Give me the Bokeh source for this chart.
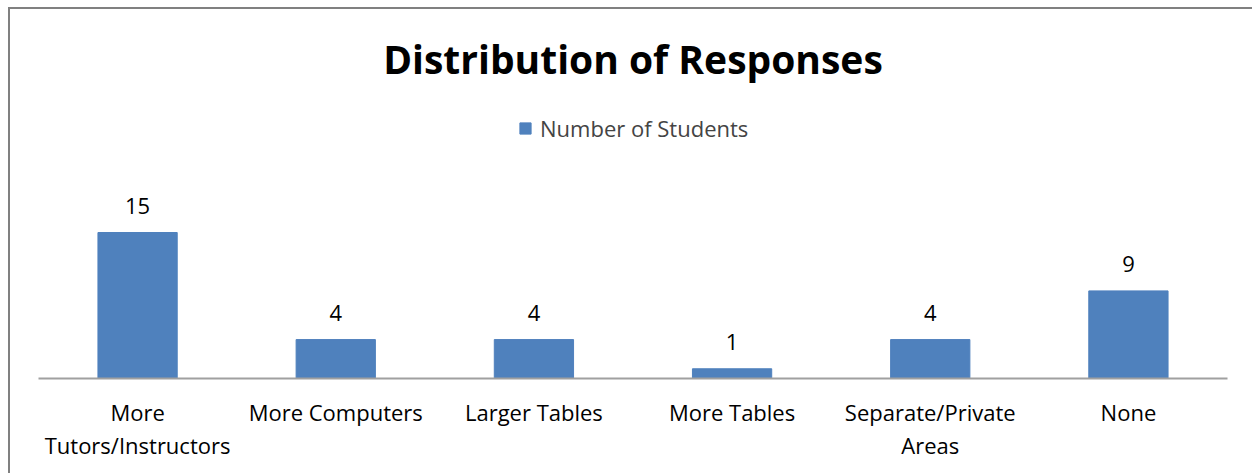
from bokeh.plotting import figure
from bokeh.models import FactorRange, ColumnDataSource, Label, Legend, LegendItem, LabelSet
from bokeh.core.properties import value
from bokeh.embed import file_html
from bokeh.resources import INLINE

categories = ["More\nTutors/Instructors", "More Computers", "Larger Tables",
              "More Tables", "Separate/Private\nAreas", "None"]
values = [15, 4, 4, 1, 4, 9]
series_name = "Number of Students"
title_text = "Distribution of Responses"

FONT = "Open Sans"
BLUE = "#4F81BD"

src = ColumnDataSource(dict(cat=categories, val=values, lab=[str(v) for v in values]))

W, H = 1244, 466
FRAME_H = 369
p = figure(x_range=FactorRange(*categories, range_padding=0), y_range=(0, 15 * FRAME_H / 146),
           width=W, height=H, output_backend="svg", toolbar_location=None,
           min_border_left=28, min_border_right=27, min_border_top=0,
           min_border_bottom=H - FRAME_H)
p.styles = {"border-top": "2px solid #808080", "border-left": "2px solid #808080",
            "margin-left": "8px", "margin-top": "7px"}
p.outline_line_color = None
p.grid.grid_line_color = None
p.yaxis.visible = False

r = p.vbar(x="cat", top="val", width=0.4, source=src, color=BLUE)

p.add_layout(LabelSet(x="cat", y="val", text="lab", source=src, text_align="center",
                      text_baseline="bottom", y_offset=19, text_font=value(FONT),
                      text_font_size="22px", text_color="black"))

ax = p.xaxis[0]
ax.axis_line_color = "#A0A0A0"
ax.axis_line_width = 2
ax.major_tick_line_color = None
ax.minor_tick_line_color = None
ax.major_label_text_font = FONT
ax.major_label_text_font_size = "22px"
ax.major_label_text_color = "black"
ax.major_label_standoff = 12
ax.major_label_text_line_height = 1.13

p.add_layout(Label(x=(1227 - 38) / 2, y=378 - 58, x_units="screen", y_units="screen",
                   text=title_text, text_font=FONT, text_font_size="39px",
                   text_font_style="bold", text_align="center", text_baseline="middle",
                   text_color="black"))

legend = Legend(items=[LegendItem(label=series_name, renderers=[r])],
                location=(480, 235), orientation="horizontal",
                padding=0, margin=0, spacing=0, border_line_color=None,
                background_fill_alpha=0, label_text_font=FONT, label_text_font_size="22px",
                glyph_width=14, glyph_height=14, label_standoff=8, label_height=22)
p.add_layout(legend)

open("out.html", "w").write(file_html(p, INLINE))
